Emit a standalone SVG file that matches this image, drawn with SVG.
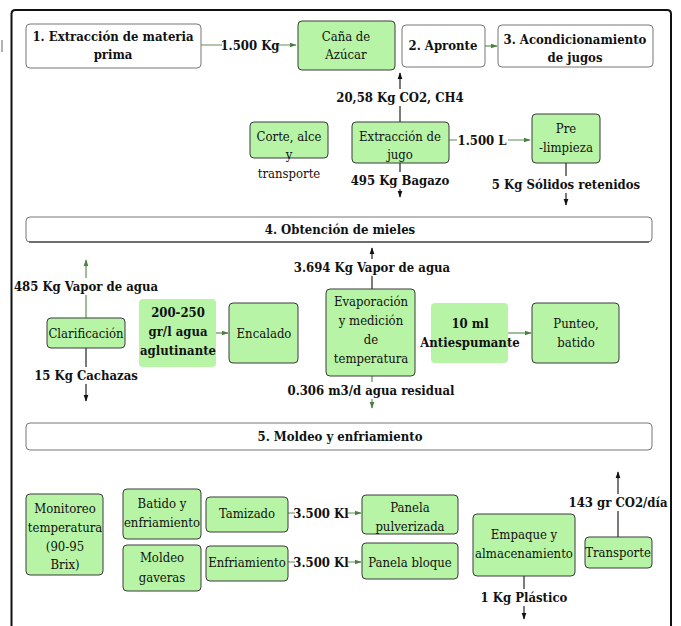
<svg xmlns="http://www.w3.org/2000/svg" width="681" height="626" viewBox="0 0 681 626">
<defs>
<marker id="ag" viewBox="0 0 10 10" refX="9" refY="5" markerWidth="7" markerHeight="7" markerUnits="userSpaceOnUse" orient="auto"><path d="M0,1.5 L10,5 L0,8.5 Z" fill="#4d7f45"/></marker>
<marker id="ak" viewBox="0 0 10 10" refX="9" refY="5" markerWidth="7" markerHeight="7" markerUnits="userSpaceOnUse" orient="auto"><path d="M0,1.5 L10,5 L0,8.5 Z" fill="#111"/></marker>
<style>
text{font-family:'DejaVu Serif';font-stretch:condensed;font-size:13px;fill:#111;text-anchor:middle}
.b{font-weight:bold}
.g{fill:#b8f4a6;stroke:#3a3a3a;stroke-width:1}
.gn{fill:#b8f4a6;stroke:none}
.w{fill:#fff;stroke:#777;stroke-width:1}
.cg{stroke:#5c8f53;stroke-width:1.2;fill:none}
.ck{stroke:#222;stroke-width:1.2;fill:none}
.lb{fill:#fff}
</style>
</defs>
<rect x="0" y="0" width="681" height="626" fill="#fff"/>
<path d="M2,40 L2,52" stroke="#999" stroke-width="1.5"/>
<path d="M11.5,640 L11.5,14 Q11.5,10 15.5,10 L667,10 Q671,10 671,14 L671,640" fill="none" stroke="#111" stroke-width="2"/>

<g id="connectors">
<line class="cg" x1="201" y1="45" x2="296" y2="45" marker-end="url(#ag)"/>
<line class="cg" x1="485" y1="46" x2="497" y2="46" marker-end="url(#ag)"/>
<line class="ck" x1="400" y1="122" x2="400" y2="73" marker-end="url(#ak)"/>
<line class="cg" x1="449" y1="140" x2="530" y2="140" marker-end="url(#ag)"/>
<line class="ck" x1="566" y1="163" x2="566" y2="205" marker-end="url(#ak)"/>
<line class="ck" x1="400" y1="163" x2="400" y2="197" marker-end="url(#ak)"/>
<line class="cg" x1="86" y1="318" x2="86" y2="260" marker-end="url(#ag)"/>
<line class="ck" x1="86" y1="348" x2="86" y2="401" marker-end="url(#ak)"/>
<line class="cg" x1="216" y1="333" x2="228" y2="333" marker-end="url(#ag)"/>
<line class="ck" x1="372" y1="289" x2="372" y2="248" marker-end="url(#ak)"/>
<line class="cg" x1="372" y1="376" x2="372" y2="408" marker-end="url(#ag)"/>
<line class="cg" x1="508" y1="333" x2="531" y2="333" marker-end="url(#ag)"/>
<line class="cg" x1="288" y1="513" x2="361" y2="513" marker-end="url(#ag)"/>
<line class="cg" x1="288" y1="562" x2="361" y2="562" marker-end="url(#ag)"/>
<line class="ck" x1="524" y1="576" x2="524" y2="619" marker-end="url(#ak)"/>
<line class="ck" x1="618" y1="537" x2="618" y2="472" marker-end="url(#ak)"/>
<rect class="lb" x="222" y="37" width="56" height="17"/>
<text class="b" x="250" y="50">1.500 Kg</text>
<rect class="lb" x="334" y="89" width="133" height="17"/>
<text class="b" x="400" y="102">20,58 Kg CO2, CH4</text>
<rect class="lb" x="457" y="132" width="51" height="17"/>
<text class="b" x="482" y="145">1.500 L</text>
<rect class="lb" x="494" y="176" width="144" height="17"/>
<text class="b" x="566" y="189">5 Kg Sólidos retenidos</text>
<rect class="lb" x="352" y="172" width="96" height="17"/>
<text class="b" x="400" y="185">495 Kg Bagazo</text>
<rect class="lb" x="14" y="278" width="144" height="17"/>
<text class="b" x="86" y="291">485 Kg Vapor de agua</text>
<rect class="lb" x="35" y="367" width="102" height="17"/>
<text class="b" x="86" y="380">15 Kg Cachazas</text>
<rect class="lb" x="295" y="259" width="154" height="17"/>
<text class="b" x="372" y="272">3.694 Kg Vapor de agua</text>
<rect class="lb" x="290" y="382" width="163" height="17"/>
<text class="b" x="371" y="395">0.306 m3/d agua residual</text>
<rect class="lb" x="295" y="505" width="53" height="17"/>
<text class="b" x="321" y="518">3.500 Kl</text>
<rect class="lb" x="295" y="554" width="53" height="17"/>
<text class="b" x="321" y="567">3.500 Kl</text>
<rect class="lb" x="479" y="589" width="90" height="17"/>
<text class="b" x="524" y="602">1 Kg Plástico</text>
<rect class="lb" x="568" y="494" width="101" height="17"/>
<text class="b" x="618" y="507">143 gr CO2/día</text>
</g>

<g id="n1"><rect class="w" x="26" y="24" width="175" height="44" rx="4"/><text class="b" x="113" y="41">1. Extracción de materia</text><text class="b" x="113" y="59">prima</text></g>
<g id="n-cana"><rect class="g" x="298" y="21" width="97" height="49" rx="4"/><text x="346" y="41">Caña de</text><text x="346" y="59">Azúcar</text></g>
<g id="n2"><rect class="w" x="402" y="25" width="83" height="42" rx="4"/><text class="b" x="443" y="50">2. Apronte</text></g>
<g id="n3"><rect class="w" x="498" y="25" width="155" height="42" rx="4"/><text class="b" x="575" y="44">3. Acondicionamiento</text><text class="b" x="575" y="62">de jugos</text></g>
<g id="n-corte"><rect class="g" x="250" y="122" width="78" height="36" rx="4"/><text x="289" y="141">Corte, alce</text><text x="289" y="159">y</text><text x="289" y="178">transporte</text></g>
<g id="n-extjugo"><rect class="g" x="352" y="122" width="97" height="41" rx="4"/><text x="400" y="141">Extracción de</text><text x="400" y="159">jugo</text></g>
<g id="n-pre"><rect class="g" x="532" y="114" width="68" height="49" rx="4"/><text x="566" y="133">Pre</text><text x="566" y="152">-limpieza</text></g>
<g id="n4"><rect class="w" x="26" y="217" width="626" height="25" rx="4"/><line x1="29" y1="242" x2="649" y2="242" stroke="#555" stroke-width="1.5"/><text class="b" x="340" y="234">4. Obtención de mieles</text></g>
<g id="n-clar"><rect class="g" x="47" y="318" width="78" height="30" rx="4"/><text x="86" y="338">Clarificación</text></g>
<g id="n-agua"><rect class="gn" x="139" y="299" width="77" height="68" rx="4"/><text class="b" x="178" y="317">200-250</text><text class="b" x="178" y="336">gr/l agua</text><text class="b" x="178" y="355">aglutinante</text></g>
<g id="n-encal"><rect class="g" x="229" y="303" width="69" height="60" rx="4"/><text x="264" y="338">Encalado</text></g>
<g id="n-evap"><rect class="g" x="326" y="289" width="89" height="87" rx="4"/><text x="371" y="306">Evaporación</text><text x="371" y="325">y medición</text><text x="371" y="344">de</text><text x="371" y="363">temperatura</text></g>
<g id="n-anti"><rect class="gn" x="431" y="303" width="77" height="60" rx="4"/><text class="b" x="470" y="328">10 ml</text><text class="b" x="470" y="347">Antiespumante</text></g>
<g id="n-punteo"><rect class="g" x="532" y="303" width="87" height="60" rx="4"/><text x="576" y="328">Punteo,</text><text x="576" y="347">batido</text></g>
<g id="n5"><rect class="w" x="26" y="423" width="626" height="27" rx="4"/><text class="b" x="340" y="441">5. Moldeo y enfriamiento</text></g>
<g id="n-monit"><rect class="g" x="26" y="494" width="77" height="81" rx="4"/><text x="65" y="513">Monitoreo</text><text x="65" y="532">temperatura</text><text x="65" y="551">(90-95</text><text x="65" y="569">Brix)</text></g>
<g id="n-batido"><rect class="g" x="123" y="489" width="78" height="50" rx="4"/><text x="162" y="508">Batido y</text><text x="162" y="527">enfriamiento</text></g>
<g id="n-moldeo"><rect class="g" x="123" y="545" width="78" height="46" rx="4"/><text x="162" y="562">Moldeo</text><text x="162" y="582">gaveras</text></g>
<g id="n-tamiz"><rect class="g" x="206" y="497" width="82" height="35" rx="4"/><text x="247" y="518">Tamizado</text></g>
<g id="n-enfr"><rect class="g" x="206" y="546" width="82" height="35" rx="4"/><text x="247" y="567">Enfriamiento</text></g>
<g id="n-pulv"><rect class="g" x="362" y="495" width="96" height="39" rx="4"/><text x="410" y="512">Panela</text><text x="410" y="531">pulverizada</text></g>
<g id="n-bloque"><rect class="g" x="362" y="543" width="96" height="36" rx="4"/><text x="410" y="567">Panela bloque</text></g>
<g id="n-empaque"><rect class="g" x="473" y="514" width="102" height="62" rx="4"/><text x="524" y="539">Empaque y</text><text x="524" y="558">almacenamiento</text></g>
<g id="n-transp"><rect class="g" x="585" y="537" width="67" height="31" rx="4"/><text x="618" y="557">Transporte</text></g>
</svg>
